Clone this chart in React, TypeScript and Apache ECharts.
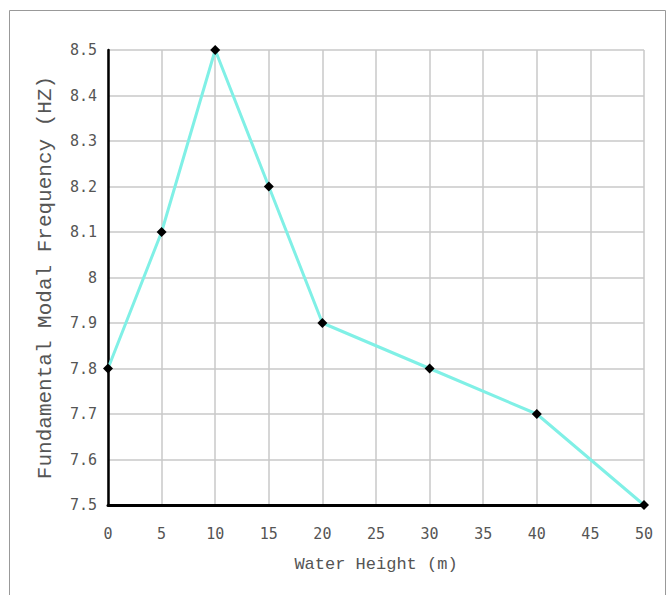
import React, { useEffect, useRef } from "react";
import * as echarts from "echarts";

const waterHeight = [0, 5, 10, 15, 20, 30, 40, 50];
const frequency = [7.8, 8.1, 8.5, 8.2, 7.9, 7.8, 7.7, 7.5];
const xTitle = "Water Height (m)";
const yTitle = "Fundamental Modal Frequency (HZ)";

export default function App() {
  const ref = useRef<HTMLDivElement>(null);
  useEffect(() => {
    if (!ref.current) return;
    const chart = echarts.init(ref.current, null, { renderer: "svg" });
    const tickFont = "'DejaVu Sans Mono', monospace";
    const titleFont = "'Liberation Mono', 'Courier New', monospace";
    chart.setOption({
      animation: false,
      backgroundColor: "#ffffff",
      graphic: [
        {
          type: "rect",
          shape: { x: 9.5, y: 10.5, width: 656, height: 590 },
          style: { fill: "none", stroke: "#999", lineWidth: 1 },
        },
      ],
      grid: { left: 108, right: 24, top: 50, bottom: 90, containLabel: false },
      xAxis: {
        type: "value",
        min: 0,
        max: 50,
        interval: 5,
        name: xTitle,
        nameLocation: "middle",
        nameGap: 51,
        nameTextStyle: { fontFamily: titleFont, fontSize: 17, color: "#555" },
        axisLine: { show: true, onZero: false, lineStyle: { color: "#000", width: 3 } },
        axisTick: { show: false },
        axisLabel: { fontFamily: tickFont, fontSize: 15, color: "#555", margin: 21 },
        splitLine: { show: true, lineStyle: { color: "#c8c8c8", width: 1.5 } },
      },
      yAxis: {
        type: "value",
        min: 7.5,
        max: 8.5,
        interval: 0.1,
        name: yTitle,
        nameLocation: "middle",
        nameGap: 52,
        nameTextStyle: { fontFamily: titleFont, fontSize: 21, color: "#555" },
        axisLine: { show: true, onZero: false, lineStyle: { color: "#000", width: 2.5 } },
        axisTick: { show: false },
        axisLabel: {
          fontFamily: tickFont,
          fontSize: 15,
          color: "#555",
          margin: 11,
          formatter: (v: number) => String(Math.round(v * 10) / 10),
        },
        splitLine: { show: true, lineStyle: { color: "#c8c8c8", width: 1.5 } },
      },
      series: [
        {
          type: "line",
          data: waterHeight.map((x, i) => [x, frequency[i]]),
          lineStyle: { color: "#80f0e6", width: 3 },
          symbol: "diamond",
          symbolSize: 10,
          itemStyle: { color: "#000" },
          clip: false,
          z: 5,
        },
      ],
    });
    return () => chart.dispose();
  }, []);
  return (
    <div
      ref={ref}
      style={{ position: "fixed", left: 0, top: 0, width: 668, height: 595 }}
    />
  );
}
